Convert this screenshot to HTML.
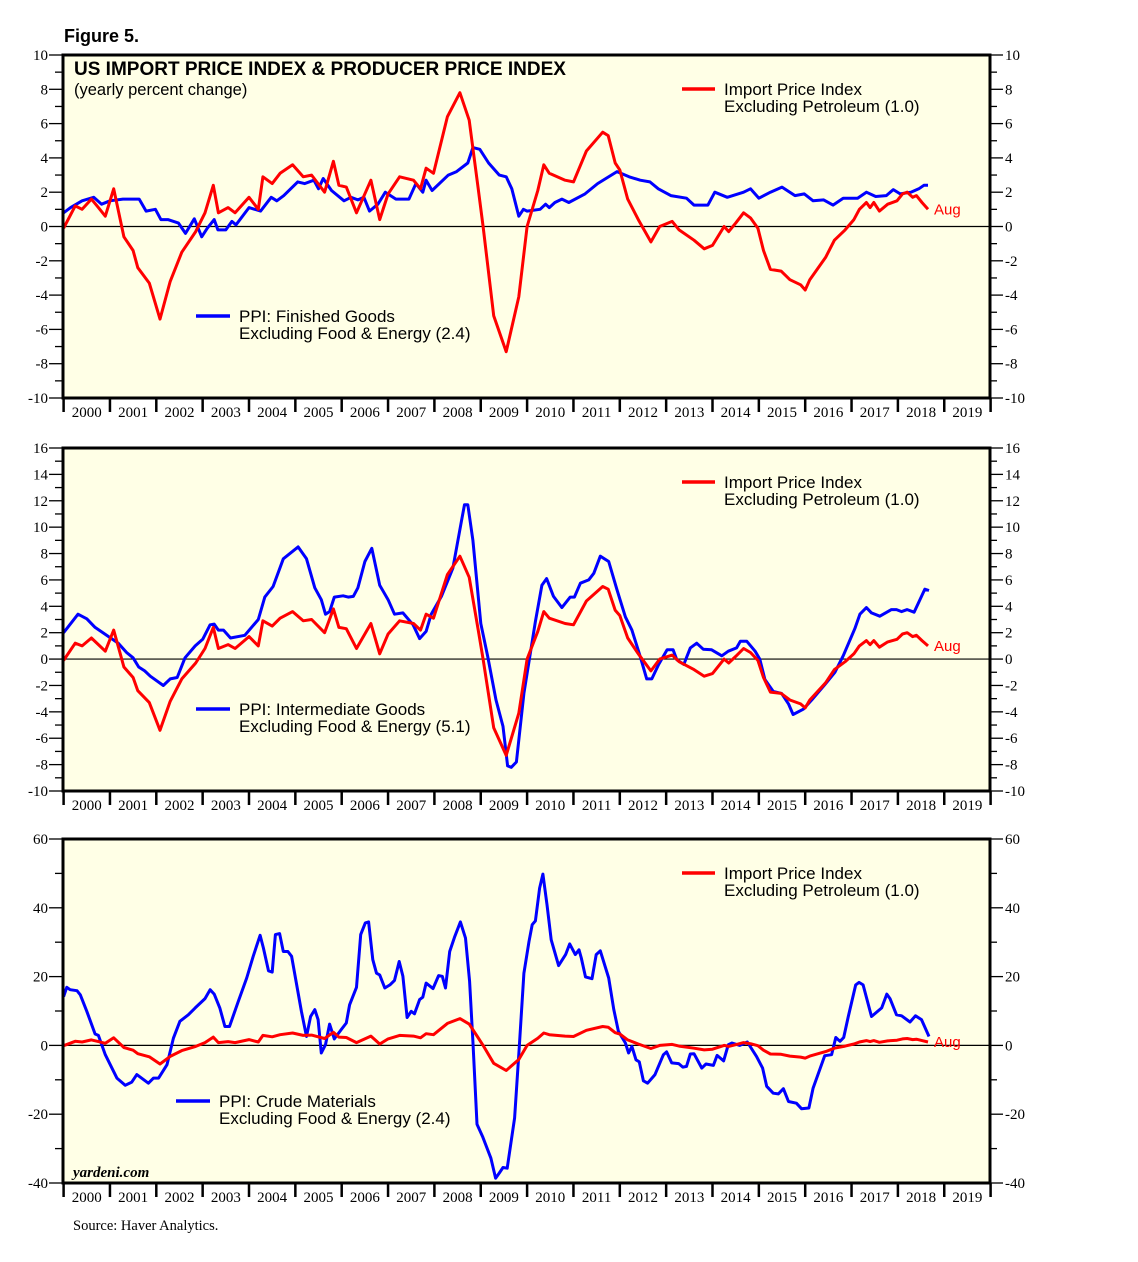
<!DOCTYPE html>
<html><head><meta charset="utf-8"><style>
body{margin:0;background:#fff;}
svg{display:block;}
.tk{font-family:"Liberation Serif",serif;font-size:15px;fill:#000;}
.lg{font-family:"Liberation Sans",sans-serif;font-size:17px;fill:#000;}
</style></head><body>
<svg id="chart" width="1138" height="1262" viewBox="0 0 1138 1262" xmlns="http://www.w3.org/2000/svg">
<text x="64" y="42" font-family="Liberation Sans, sans-serif" font-weight="bold" font-size="18">Figure 5.</text>
<text x="73" y="1230" font-family="Liberation Serif, serif" font-size="14.5">Source: Haver Analytics.</text>
</svg>
<script>
// Shared red series: Import Price Index excl. petroleum
const redT=[2000,2000.25,2000.4,2000.6,2000.75,2000.9,2001.08,2001.3,2001.5,2001.6,2001.85,2002.08,2002.3,2002.55,2002.85,2003.05,2003.23,2003.34,2003.55,2003.7,2004.0,2004.2,2004.3,2004.5,2004.67,2004.94,2005.17,2005.35,2005.63,2005.82,2005.94,2006.1,2006.32,2006.63,2006.82,2007.0,2007.25,2007.55,2007.7,2007.82,2007.98,2008.28,2008.55,2008.75,2008.94,2009.05,2009.28,2009.55,2009.82,2010.0,2010.23,2010.36,2010.48,2010.82,2011.0,2011.28,2011.63,2011.75,2011.9,2012.0,2012.17,2012.4,2012.67,2012.86,2013.13,2013.28,2013.6,2013.82,2014.0,2014.25,2014.35,2014.5,2014.67,2014.82,2014.98,2015.1,2015.25,2015.48,2015.67,2015.9,2016.0,2016.1,2016.44,2016.63,2016.86,2017.05,2017.17,2017.32,2017.4,2017.48,2017.6,2017.78,2017.98,2018.1,2018.2,2018.32,2018.4,2018.52,2018.65];
const redV=[-0.1,1.2,1.0,1.6,1.1,0.6,2.2,-0.6,-1.4,-2.4,-3.3,-5.4,-3.2,-1.5,-0.3,0.8,2.4,0.8,1.1,0.8,1.7,1.0,2.9,2.5,3.1,3.6,2.9,3.0,2.0,3.8,2.4,2.3,0.8,2.7,0.4,1.9,2.9,2.7,2.2,3.4,3.1,6.4,7.8,6.2,2.3,0,-5.2,-7.3,-4.1,0,2.1,3.6,3.1,2.7,2.6,4.4,5.5,5.3,3.7,3.3,1.6,0.4,-0.9,0,0.3,-0.2,-0.8,-1.3,-1.1,0,-0.3,0.2,0.8,0.5,-0.1,-1.4,-2.5,-2.6,-3.1,-3.4,-3.7,-3.1,-1.8,-0.8,-0.2,0.4,1.0,1.4,1.1,1.4,0.9,1.3,1.5,1.9,2.0,1.7,1.8,1.4,1.0];
// Panel 1 blue: PPI finished goods ex food & energy
const finT=[2000,2000.15,2000.4,2000.65,2000.82,2001.0,2001.28,2001.63,2001.78,2001.98,2002.1,2002.25,2002.48,2002.63,2002.82,2002.98,2003.1,2003.25,2003.33,2003.5,2003.63,2003.72,2004.0,2004.25,2004.48,2004.6,2004.75,2005.05,2005.2,2005.4,2005.5,2005.6,2005.78,2006.05,2006.2,2006.35,2006.48,2006.6,2006.78,2006.94,2007.17,2007.45,2007.6,2007.75,2007.82,2007.95,2008.3,2008.48,2008.72,2008.83,2008.98,2009.17,2009.4,2009.55,2009.67,2009.82,2009.92,2010,2010.28,2010.4,2010.48,2010.6,2010.75,2010.9,2011.25,2011.52,2011.94,2012.2,2012.44,2012.65,2012.83,2013.1,2013.44,2013.6,2013.9,2014.05,2014.32,2014.67,2014.82,2015.0,2015.25,2015.5,2015.78,2015.98,2016.17,2016.4,2016.6,2016.82,2017.13,2017.32,2017.52,2017.75,2017.9,2018.05,2018.28,2018.45,2018.56,2018.65];
const finV=[0.8,1.1,1.5,1.7,1.3,1.5,1.6,1.6,0.9,1.0,0.4,0.4,0.2,-0.4,0.45,-0.6,-0.1,0.4,-0.2,-0.2,0.3,0.1,1.1,0.9,1.7,1.5,1.8,2.6,2.5,2.7,2.2,2.8,2.1,1.5,1.7,1.55,1.7,0.9,1.3,2.0,1.6,1.6,2.5,2.0,2.7,2.1,3.0,3.2,3.7,4.6,4.5,3.7,3.0,2.9,2.2,0.6,1.0,0.9,1.0,1.3,1.1,1.4,1.6,1.4,1.9,2.5,3.2,2.9,2.7,2.6,2.2,1.8,1.65,1.25,1.25,2.0,1.7,2.0,2.2,1.65,2.0,2.3,1.8,1.9,1.5,1.55,1.25,1.65,1.65,2.0,1.75,1.8,2.15,1.9,2.0,2.2,2.4,2.4];
// Panel 2 blue: PPI intermediate goods ex food & energy
const intT=[2000,2000.31,2000.5,2000.68,2000.97,2001.18,2001.36,2001.5,2001.62,2001.75,2001.87,2002.15,2002.3,2002.45,2002.62,2002.84,2003.0,2003.16,2003.25,2003.34,2003.45,2003.6,2003.91,2004.2,2004.34,2004.52,2004.74,2005.06,2005.24,2005.42,2005.56,2005.65,2005.74,2005.84,2006.03,2006.14,2006.25,2006.35,2006.5,2006.65,2006.82,2007.0,2007.14,2007.32,2007.54,2007.68,2007.82,2007.93,2008.15,2008.4,2008.58,2008.65,2008.72,2008.83,2009.0,2009.15,2009.33,2009.48,2009.58,2009.66,2009.77,2009.93,2010.18,2010.32,2010.42,2010.57,2010.75,2010.93,2011.02,2011.15,2011.33,2011.44,2011.58,2011.76,2011.94,2012.12,2012.26,2012.44,2012.58,2012.69,2012.84,2013.02,2013.15,2013.23,2013.38,2013.52,2013.66,2013.8,2013.98,2014.2,2014.34,2014.52,2014.6,2014.74,2014.92,2015.02,2015.13,2015.31,2015.49,2015.64,2015.74,2015.96,2016.14,2016.42,2016.64,2016.82,2017.07,2017.18,2017.32,2017.43,2017.61,2017.86,2017.97,2018.08,2018.2,2018.35,2018.58,2018.67];
const intV=[2.0,3.4,3.05,2.4,1.7,1.2,0.5,0.1,-0.6,-0.9,-1.3,-2.0,-1.5,-1.4,0.1,1.0,1.5,2.6,2.65,2.2,2.2,1.6,1.8,3.0,4.7,5.5,7.6,8.5,7.6,5.4,4.5,3.4,3.6,4.7,4.8,4.7,4.75,5.4,7.4,8.4,5.6,4.5,3.4,3.5,2.6,1.55,2.1,3.4,4.75,6.9,10.4,11.7,11.7,9.0,2.7,0.2,-3.1,-5.1,-8.1,-8.2,-7.8,-2.6,2.85,5.6,6.1,4.75,3.9,4.7,4.7,5.75,6.0,6.5,7.8,7.4,5.25,3.2,2.2,0.2,-1.5,-1.5,-0.4,0.7,0.7,-0.05,-0.4,0.85,1.2,0.75,0.7,0.25,0.6,0.85,1.35,1.35,0.6,0,-1.55,-2.45,-2.6,-3.4,-4.2,-3.8,-3.1,-1.95,-1.0,0.25,2.3,3.4,3.9,3.5,3.25,3.75,3.75,3.6,3.75,3.55,5.3,5.2];
// Panel 3 blue: PPI crude materials ex food & energy
const crdT=[2000,2000.07,2000.14,2000.29,2000.36,2000.5,2000.68,2000.75,2000.9,2001.15,2001.33,2001.47,2001.58,2001.83,2001.94,2002.05,2002.23,2002.37,2002.51,2002.69,2002.84,2003.05,2003.16,2003.25,2003.37,2003.48,2003.58,2003.77,2003.95,2004.09,2004.24,2004.31,2004.42,2004.5,2004.57,2004.66,2004.74,2004.84,2004.92,2005.13,2005.24,2005.33,2005.42,2005.49,2005.56,2005.65,2005.74,2005.84,2005.99,2006.1,2006.17,2006.32,2006.41,2006.51,2006.58,2006.67,2006.75,2006.82,2006.93,2007.04,2007.14,2007.24,2007.32,2007.41,2007.5,2007.57,2007.68,2007.75,2007.82,2007.97,2008.09,2008.17,2008.24,2008.33,2008.44,2008.56,2008.67,2008.76,2008.83,2008.92,2009.04,2009.22,2009.32,2009.4,2009.48,2009.57,2009.73,2009.83,2009.93,2010.04,2010.11,2010.18,2010.27,2010.34,2010.43,2010.52,2010.68,2010.83,2010.92,2011.04,2011.12,2011.17,2011.26,2011.4,2011.49,2011.58,2011.76,2011.87,2011.97,2012.12,2012.19,2012.26,2012.35,2012.42,2012.51,2012.6,2012.76,2012.94,2013.01,2013.12,2013.27,2013.36,2013.44,2013.52,2013.6,2013.77,2013.86,2014.02,2014.1,2014.24,2014.34,2014.42,2014.59,2014.75,2014.95,2015.08,2015.17,2015.31,2015.42,2015.53,2015.64,2015.81,2015.92,2016.08,2016.17,2016.42,2016.57,2016.66,2016.75,2016.83,2016.93,2017.09,2017.16,2017.25,2017.43,2017.65,2017.76,2017.83,2017.97,2018.08,2018.26,2018.38,2018.51,2018.67];
const crdV=[14.2,16.9,16.2,15.9,14.7,9.9,3.3,2.9,-2.7,-9.5,-11.6,-10.7,-8.5,-11.0,-9.5,-9.5,-5.6,2.1,7.0,8.9,10.9,13.6,16.2,14.9,10.9,5.5,5.5,12.8,19.6,25.9,32.0,28.3,21.7,21.3,32.2,32.5,27.3,27.3,25.9,9.9,2.6,8.4,10.4,7.5,-2.2,0.2,6.2,1.9,4.6,6.5,11.8,16.9,32.2,35.6,35.9,24.9,21.0,20.5,16.7,17.6,18.9,24.4,20.1,8.1,9.9,9.2,13.3,14.0,18.1,16.5,20.3,20.1,16.7,27.3,31.7,35.9,31.2,18.6,1.2,-22.9,-26.5,-32.8,-38.6,-37.1,-35.5,-35.7,-21.1,-0.8,21.0,30.2,35.1,36.2,45.7,49.8,40.9,30.7,23.2,26.4,29.5,26.4,27.8,25.4,19.9,19.4,26.4,27.5,19.6,10.4,4.1,0.7,-2.2,-0.3,-4.2,-4.8,-10.3,-11.0,-8.5,-2.7,-1.9,-5.1,-5.3,-6.3,-6.1,-2.5,-2.4,-6.6,-5.4,-5.8,-2.9,-4.5,0.2,0.7,0,1.0,-3.2,-6.6,-11.9,-13.9,-14.1,-12.6,-16.3,-16.8,-18.4,-18.2,-12.4,-3.0,-2.7,2.3,1.2,2.3,8.4,17.6,18.3,17.6,8.4,10.9,14.9,13.6,8.9,8.6,6.8,8.6,7.5,2.6];
const yearLabels=["2000","2001","2002","2003","2004","2005","2006","2007","2008","2009","2010","2011","2012","2013","2014","2015","2016","2017","2018","2019"];

const NS="http://www.w3.org/2000/svg";
const svg=document.getElementById('chart');
function mk(tag,attrs,parent){const e=document.createElementNS(NS,tag);for(const k in attrs)e.setAttribute(k,attrs[k]);(parent||svg).appendChild(e);return e;}
const X0=63.6,XW=46.35,L=63,R=990;
function xs(t){return X0+(t-2000)*XW;}

function panel(cfg){
  const g=mk('g',{});
  
  
  const ys=v=>cfg.top+(cfg.max-v)/(cfg.max-cfg.min)*(cfg.bot-cfg.top);
  const bg=mk('rect',{x:L,y:cfg.top,width:R-L,height:cfg.bot-cfg.top,fill:'#ffffe6'},g);
  
  
  for(let v=cfg.min;v<=cfg.max+1e-9;v+=cfg.minor){
    const y=ys(v);const major=Math.abs(Math.round(v/cfg.major)*cfg.major-v)<1e-9;
    mk('line',{x1:major?49:55,x2:L,y1:y,y2:y,stroke:'#000','stroke-width':1.3},g);
    mk('line',{x1:R,x2:major?1003:997,y1:y,y2:y,stroke:'#000','stroke-width':1.3},g);
    if(major){
      const t1=mk('text',{x:48,y:y+5,'text-anchor':'end',class:'tk'},g);t1.textContent=String(v);
      
      
      const t2=mk('text',{x:1005,y:y+5,class:'tk'},g);t2.textContent=String(v);
      
      
    }
  }
  const zl=mk('line',{x1:L,x2:R,y1:ys(0),y2:ys(0),stroke:'#000','stroke-width':1.2},g);
  
  
  for(let i=0;i<=yearLabels.length;i++){
    const x=xs(2000+i);
    mk('line',{x1:x,x2:x,y1:cfg.bot,y2:cfg.bot+14,stroke:'#000','stroke-width':2.5},g);
  }
  yearLabels.forEach((lab,i)=>{
    const t=mk('text',{x:xs(2000.5+i),y:cfg.bot+19,'text-anchor':'middle',class:'tk'},g);
    t.textContent=lab;
    
    
  });
  function line(T,V,color,nm){
    const d=T.map((t,i)=>(i?'L':'M')+xs(t).toFixed(1)+' '+ys(V[i]).toFixed(1)).join(' ');
    const p=mk('path',{d:d,fill:'none',stroke:color,'stroke-width':3,'stroke-linejoin':'round'},g);
    
    
  }
  line(cfg.bT,cfg.bV,'#0000ff',cfg.blueName);
  line(redT,redV,'#ff0000','import-price-line');
  const fr=mk('rect',{x:L,y:cfg.top,width:R-L,height:cfg.bot-cfg.top,fill:'none',stroke:'#000','stroke-width':3},g);
  
  
  const ry=cfg.top+34;
  mk('line',{x1:682,x2:715,y1:ry,y2:ry,stroke:'#ff0000','stroke-width':3.5},g);
  const lt=mk('text',{x:724,y:ry+6,class:'lg'},g);
  
  
  lt.innerHTML='<tspan x="724">Import Price Index</tspan><tspan x="724" dy="17">Excluding Petroleum (1.0)</tspan>';
  mk('line',{x1:cfg.lx,x2:cfg.lx+34,y1:cfg.ly,y2:cfg.ly,stroke:'#0000ff','stroke-width':3.5},g);
  const bt=mk('text',{x:cfg.lx+43,y:cfg.ly+6,class:'lg'},g);
  
  
  bt.innerHTML='<tspan x="'+(cfg.lx+43)+'">'+cfg.l1+'</tspan><tspan x="'+(cfg.lx+43)+'" dy="17">'+cfg.l2+'</tspan>';
  const au=mk('text',{x:934,y:ys(redV[redV.length-1])+5,fill:'#ff0000','font-family':'Liberation Sans, sans-serif','font-size':15},g);
  au.textContent='Aug';
  
  
  return g;
}
panel({name:'panel-finished-goods',top:55,bot:398,min:-10,max:10,major:2,minor:1,bT:finT,bV:finV,blueName:'ppi-finished-line',lx:196,ly:316,l1:'PPI: Finished Goods',l2:'Excluding Food &amp; Energy (2.4)'});
panel({name:'panel-intermediate-goods',top:448,bot:791,min:-10,max:16,major:2,minor:1,bT:intT,bV:intV,blueName:'ppi-intermediate-line',lx:196,ly:709,l1:'PPI: Intermediate Goods',l2:'Excluding Food &amp; Energy (5.1)'});
panel({name:'panel-crude-materials',top:839,bot:1183,min:-40,max:60,major:20,minor:10,bT:crdT,bV:crdV,blueName:'ppi-crude-line',lx:176,ly:1101,l1:'PPI: Crude Materials',l2:'Excluding Food &amp; Energy (2.4)'});

const tt=mk('text',{x:74,y:75,'font-family':'Liberation Sans, sans-serif','font-weight':'bold','font-size':19});
tt.textContent='US IMPORT PRICE INDEX & PRODUCER PRICE INDEX';


const st=mk('text',{x:74,y:95,'font-family':'Liberation Sans, sans-serif','font-size':16.5});
st.textContent='(yearly percent change)';


const yd=mk('text',{x:73,y:1177,'font-family':'Liberation Serif, serif','font-style':'italic','font-weight':'bold','font-size':15});
yd.textContent='yardeni.com';


</script>
</body></html>
